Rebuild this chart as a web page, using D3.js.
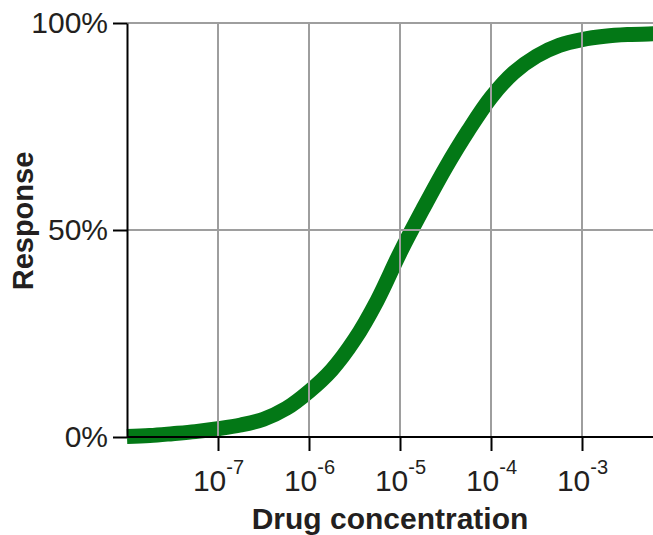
<!DOCTYPE html>
<html>
<head>
<meta charset="UTF-8">
<script src="https://cdn.jsdelivr.net/npm/d3@7"></script>
<style>
body { margin: 0; background: #fff; }
text { font-family: "Liberation Sans", Arial, sans-serif; fill: #231f20; }
</style>
</head>
<body>
<script>
// dose-response curve (log10 concentration, % response)
var logConc = [-8, -7.75, -7.5, -7.25, -7, -6.75, -6.5, -6.25, -6, -5.75, -5.5, -5.25,
               -5, -4.75, -4.5, -4.25, -4, -3.75, -3.5, -3.25, -3, -2.75, -2.5, -2.2, -2];
var response = [0.1, 0.35, 0.8, 1.3, 2.0, 2.9, 4.3, 6.9, 11, 16.2, 23.5, 33,
                44.5, 55, 65, 74, 82, 88, 92, 94.6, 96, 96.8, 97.2, 97.4, 97.5];
var xTicks = [1e-7, 1e-6, 1e-5, 1e-4, 1e-3];
var xTickExp = ["-7", "-6", "-5", "-4", "-3"];
var yTicks = [0, 50, 100];
var yTickLabels = ["0%", "50%", "100%"];

var W = 653, H = 535;
var plotLeft = 127, plotBottom = 437, plotTop = 23;

var svg = d3.select("body").append("svg")
    .attr("width", W)
    .attr("height", H);

var x = d3.scaleLog().domain([1e-8, 1e-2]).range([plotLeft, plotLeft + 6 * 91]);
var y = d3.scaleLinear().domain([0, 100]).range([plotBottom, plotTop]);

var pts = logConc.map(function(d, i){ return [Math.pow(10, d), response[i]]; });

var line = d3.line()
    .x(function(d){ return x(d[0]); })
    .y(function(d){ return y(d[1]); })
    .curve(d3.curveCatmullRom);

svg.append("path")
    .datum(pts)
    .attr("d", line)
    .attr("fill", "none")
    .attr("stroke", "#037816")
    .attr("stroke-width", 15);

// grid on top of the curve
svg.selectAll("line.vgrid")
    .data(xTicks)
    .enter().append("line")
    .attr("class", "vgrid")
    .attr("x1", function(d){ return x(d); })
    .attr("x2", function(d){ return x(d); })
    .attr("y1", plotTop)
    .attr("y2", plotBottom)
    .attr("stroke", "#9e9e9e")
    .attr("stroke-width", 2);

svg.selectAll("line.hgrid")
    .data([50, 100])
    .enter().append("line")
    .attr("class", "hgrid")
    .attr("x1", plotLeft)
    .attr("x2", W)
    .attr("y1", function(d){ return y(d); })
    .attr("y2", function(d){ return y(d); })
    .attr("stroke", "#9e9e9e")
    .attr("stroke-width", 2);

var yAxis = svg.append("g")
    .attr("transform", "translate(" + plotLeft + ",0)")
    .call(d3.axisLeft(y)
        .tickValues(yTicks)
        .tickFormat(function(d, i){ return yTickLabels[i]; })
        .tickSize(14)
        .tickSizeOuter(0)
        .tickPadding(5));

var xAxis = svg.append("g")
    .attr("transform", "translate(0," + plotBottom + ")")
    .call(d3.axisBottom(x)
        .tickValues(xTicks)
        .tickFormat(function(){ return ""; })
        .tickSize(14)
        .tickSizeOuter(0));

[yAxis, xAxis].forEach(function(g){
    g.select(".domain").attr("stroke", "#000").attr("stroke-width", 2);
    g.selectAll(".tick line").attr("stroke", "#000").attr("stroke-width", 2);
});
xAxis.select(".domain").attr("d", "M" + plotLeft + ",0H" + (W + 20));

yAxis.selectAll(".tick text")
    .attr("font-size", 30)
    .attr("fill", "#231f20")
    .style("font-family", "'Liberation Sans', Arial, sans-serif");

xAxis.selectAll(".tick text").each(function(d, i){
    var t = d3.select(this);
    t.text(null)
        .attr("y", 54)
        .attr("dy", null)
        .attr("font-size", 30)
        .attr("fill", "#231f20")
        .style("font-family", "'Liberation Sans', Arial, sans-serif");
    t.append("tspan").text("10");
    t.append("tspan").text(xTickExp[i]).attr("font-size", 20).attr("dy", -17);
});

svg.append("text")
    .attr("x", (plotLeft + W) / 2)
    .attr("y", 529)
    .attr("text-anchor", "middle")
    .attr("font-size", 30)
    .attr("font-weight", "bold")
    .text("Drug concentration");

svg.append("text")
    .attr("transform", "translate(33," + 221 + ") rotate(-90)")
    .attr("text-anchor", "middle")
    .attr("font-size", 29)
    .attr("font-weight", "bold")
    .text("Response");
</script>
</body>
</html>
